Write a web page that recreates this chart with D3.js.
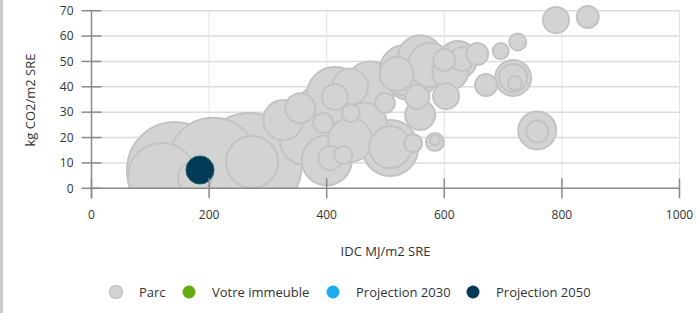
<!DOCTYPE html>
<html lang="fr">
<head>
<meta charset="UTF-8">
<title>IDC vs CO2</title>
<script src="https://d3js.org/d3.v7.min.js"></script>
<style>
  html, body { margin: 0; padding: 0; background: #fff; overflow: hidden; }
  svg { display: block; }
  text { font-family: "Open Sans", "Noto Sans", sans-serif; fill: #333; }
</style>
</head>
<body>
<div id="chart"></div>
<script>
// axis ticks
const xTicks = [0, 200, 400, 600, 800, 1000];
const yTicks = [0, 10, 20, 30, 40, 50, 60, 70];

// Parc: IDC (MJ/m2 SRE), CO2 (kg/m2 SRE), SRE (m2) for bubble size
const parcIdc = [142, 120, 269, 273, 176, 207, 402, 394, 394, 326, 363, 400, 406, 414, 441, 465, 508, 508, 428, 519,
                 499, 554, 542, 559, 600, 603, 584, 584, 547, 623, 630, 656, 696, 725, 717, 717, 720, 671, 758, 758,
                 790, 844, 440, 414, 474, 533, 576, 610, 355, 559, 440];
const parcCo2 = [7.2, 4.5, 9.2, 10.4, 4.1, 10.1, 26.5, 24.2, 25.7, 26.9, 19.0, 11.0, 11.9, 36.0, 29.6, 25.1, 15.9, 16.2, 13.1, 45.1,
                 33.6, 36.0, 45.8, 51.7, 50.6, 36.3, 18.2, 18.9, 17.8, 50.6, 51.0, 52.9, 54.1, 57.7, 43.5, 43.5, 41.5, 40.7, 22.8, 22.4,
                 66.3, 67.5, 40.1, 36.8, 40.1, 46.6, 48.6, 45.9, 31.6, 28.9, 19.0];
const parcSre = [19200, 9633, 22533, 5633, 2408, 16875, 12033, 6533, 833, 3333, 5208, 5208, 1200, 1408, 675, 4033, 6533, 3675, 675, 2408,
                 833, 1200, 6533, 4033, 1008, 1408, 675, 208, 675, 3008, 1200, 1008, 533, 602, 2700, 1633, 408, 1008, 3008, 1008,
                 1408, 1008, 2700, 6533, 5208, 5208, 4033, 2700, 1875, 1875, 4033];

// Projection 2050
const proj2050Idc = [184.5];
const proj2050Co2 = [7.2];
const proj2050Sre = [1633];

const legendLabels = ["Parc", "Votre immeuble", "Projection 2030", "Projection 2050"];
const legendColors = ["#d3d3d3", "#66ab0d", "#1eaaee", "#003a55"];

const width = 697, height = 313;
const margin = { left: 91.5, right: 17.5, top: 10.7, bottom: 124.7 };

const svg = d3.select("#chart").append("svg")
  .attr("width", width)
  .attr("height", height);

// grey frame edge on the left
svg.append("rect").attr("x", 0).attr("y", 0).attr("width", 3).attr("height", height).attr("fill", "#c9c9c9");

const x = d3.scaleLinear().domain([0, 1000]).range([margin.left, width - margin.right]);
const y = d3.scaleLinear().domain([0, 70]).range([height - margin.bottom, margin.top]);
const r = d3.scaleSqrt().domain([0, 30000]).range([0, 60]);

const x0 = x(0), x1 = x(1000), y0 = y(0), y1 = y(70);

// gridlines
svg.append("g").selectAll("line").data(yTicks.slice(1)).join("line")
  .attr("x1", x0).attr("x2", x1)
  .attr("y1", d => y(d)).attr("y2", d => y(d))
  .attr("stroke", "#dcdcdc").attr("stroke-width", 1.5);
svg.append("g").selectAll("line").data(xTicks.slice(1)).join("line")
  .attr("x1", d => x(d)).attr("x2", d => x(d))
  .attr("y1", y1).attr("y2", y0)
  .attr("stroke", "#e2e2e2").attr("stroke-width", 1);

// bubbles, clipped at the x axis
svg.append("clipPath").attr("id", "plot")
  .append("rect").attr("x", 0).attr("y", 0).attr("width", width).attr("height", y0);

const parc = parcIdc.map((d, i) => ({ idc: d, co2: parcCo2[i], sre: parcSre[i] }))
  .sort((a, b) => b.sre - a.sre);

const gB = svg.append("g").attr("clip-path", "url(#plot)");
gB.selectAll("circle.parc").data(parc).join("circle")
  .attr("class", "parc")
  .attr("cx", d => x(d.idc))
  .attr("cy", d => y(d.co2))
  .attr("r", d => r(d.sre))
  .attr("fill", "#d3d3d3")
  .attr("stroke", "#c3c3c3")
  .attr("stroke-width", 2);

gB.selectAll("circle.p2050").data(proj2050Idc.map((d, i) => ({ idc: d, co2: proj2050Co2[i], sre: proj2050Sre[i] })))
  .join("circle")
  .attr("class", "p2050")
  .attr("cx", d => x(d.idc))
  .attr("cy", d => y(d.co2))
  .attr("r", d => r(d.sre))
  .attr("fill", "#003a55")
  .attr("stroke", "#0c5d66")
  .attr("stroke-width", 1);

// axes
const axisColor = "#8a8a8a";
svg.append("line").attr("x1", x0).attr("x2", x0).attr("y1", y1).attr("y2", y0 + 10)
  .attr("stroke", axisColor).attr("stroke-width", 1.5);
svg.append("line").attr("x1", x0).attr("x2", x1).attr("y1", y0).attr("y2", y0)
  .attr("stroke", axisColor).attr("stroke-width", 1.5);

svg.append("g").selectAll("line").data(yTicks).join("line")
  .attr("x1", x0 - 10).attr("x2", x0 + 10)
  .attr("y1", d => y(d)).attr("y2", d => y(d))
  .attr("stroke", axisColor).attr("stroke-width", 1.5);
svg.append("g").selectAll("line").data(xTicks).join("line")
  .attr("x1", d => x(d)).attr("x2", d => x(d))
  .attr("y1", y0 - 10).attr("y2", y0 + 10)
  .attr("stroke", axisColor).attr("stroke-width", 1.5);

svg.append("g").selectAll("text").data(yTicks).join("text")
  .attr("x", x0 - 18).attr("y", d => y(d))
  .attr("dy", "0.35em")
  .attr("text-anchor", "end")
  .attr("font-size", 12)
  .text(d => d);
svg.append("g").selectAll("text").data(xTicks).join("text")
  .attr("x", d => x(d)).attr("y", 215)
  .attr("dy", "0.35em")
  .attr("text-anchor", "middle")
  .attr("font-size", 12)
  .text(d => d);

svg.append("text")
  .attr("transform", "translate(30,100) rotate(-90)")
  .attr("dy", "0.35em")
  .attr("text-anchor", "middle")
  .attr("font-size", 13)
  .text("kg CO2/m2 SRE");
svg.append("text")
  .attr("x", (x0 + x1) / 2).attr("y", 251)
  .attr("dy", "0.35em")
  .attr("text-anchor", "middle")
  .attr("font-size", 13)
  .text("IDC MJ/m2 SRE");

// legend
const legendX = [116, 189, 333, 473];
const lg = svg.append("g").selectAll("g").data(legendLabels).join("g")
  .attr("transform", (d, i) => `translate(${legendX[i]},292)`);
lg.append("circle")
  .attr("r", 6.5)
  .attr("fill", (d, i) => legendColors[i])
  .attr("stroke", (d, i) => i === 0 ? "#c3c3c3" : "none")
  .attr("stroke-width", 1.5);
lg.append("text")
  .attr("x", 23).attr("dy", "0.35em")
  .attr("font-size", 13)
  .text(d => d);
</script>
</body>
</html>
